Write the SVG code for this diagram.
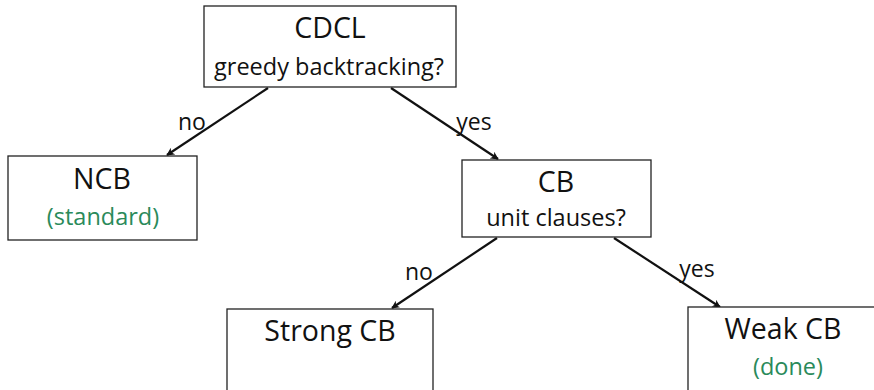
<svg xmlns="http://www.w3.org/2000/svg" width="874" height="390" viewBox="0 0 874 390">
<style>
.box{fill:#fff;stroke:#222;stroke-width:1.3}
.t{font-family:"Open Sans","Liberation Sans",sans-serif;fill:#111;text-anchor:middle}
.big{font-size:28.5px}
.sm{font-size:23.5px}
.g{fill:#2a8a5a}
.edge{stroke:#111;stroke-width:2.2;fill:none;marker-end:url(#ah)}
.lbl{font-family:"Open Sans","Liberation Sans",sans-serif;font-size:23px;fill:#111;text-anchor:middle}
</style>
<defs>
<marker id="ah" viewBox="0 0 10 10" refX="9" refY="5" markerWidth="8" markerHeight="8" orient="auto" markerUnits="userSpaceOnUse">
<path d="M0,0 L10,5 L0,10 L3,5 Z" fill="#111"/>
</marker>
</defs>
<g id="connectors">
<line class="edge" x1="268" y1="88" x2="167" y2="155"/>
<line class="edge" x1="391" y1="88" x2="498" y2="159"/>
<line class="edge" x1="497" y1="238" x2="392" y2="308"/>
<line class="edge" x1="614" y1="238" x2="720" y2="307"/>
<text class="lbl" x="192" y="130">no</text>
<text class="lbl" x="474" y="130">yes</text>
<text class="lbl" x="419" y="280">no</text>
<text class="lbl" x="697" y="277">yes</text>
</g>
<g id="cdcl">
<rect class="box" x="204" y="6" width="252" height="81"/>
<text class="t big" x="330" y="38">CDCL</text>
<text class="t sm" x="329" y="75">greedy backtracking?</text>
</g>
<g id="ncb">
<rect class="box" x="8" y="156" width="189" height="84"/>
<text class="t big" x="102" y="189">NCB</text>
<text class="t sm g" x="103" y="225">(standard)</text>
</g>
<g id="cb">
<rect class="box" x="462" y="160" width="189" height="77"/>
<text class="t big" x="556" y="192">CB</text>
<text class="t sm" x="556" y="226">unit clauses?</text>
</g>
<g id="strong">
<rect class="box" x="227" y="309" width="206" height="90"/>
<text class="t big" x="330" y="341">Strong CB</text>
</g>
<g id="weak">
<rect class="box" x="688" y="307" width="200" height="90"/>
<text class="t big" x="783" y="339">Weak CB</text>
<text class="t sm g" x="788" y="375">(done)</text>
</g>
</svg>
